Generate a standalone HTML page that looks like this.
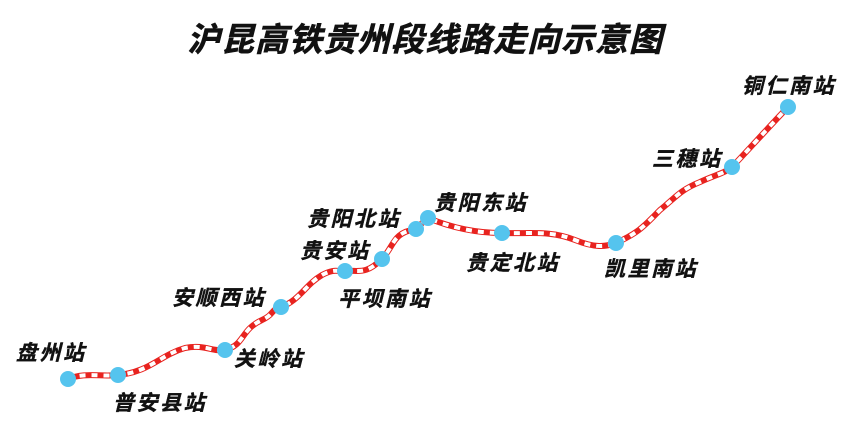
<!DOCTYPE html>
<html><head><meta charset="utf-8"><style>
html,body{margin:0;padding:0;background:#fff;}
svg{display:block}
text{font-family:"Liberation Sans","Noto Sans CJK SC",sans-serif;font-weight:bold;font-style:italic;fill:#111;}
</style></head><body>
<svg width="863" height="436" viewBox="0 0 863 436" xmlns="http://www.w3.org/2000/svg">
<text x="425" y="51" font-size="33" text-anchor="middle" letter-spacing="1" stroke="#111" stroke-width="0.6">沪昆高铁贵州段线路走向示意图</text>
<g fill="none" stroke-linecap="butt" stroke-linejoin="round">
<path d="M68,379 C85,372 100,377 118,375 C150,372 160,355 185,348 C205,344 212,352 225,350 C245,345 240,330 262,320 C275,314 270,310 281,307 C300,300 305,285 322,275 C335,268 338,272 345,271 C360,270 365,275 382,259 C395,245 392,233 416,229 C420,226 424,220 428,218 C445,225 470,233 502,233 C530,234 550,230 575,240 C595,248 605,247 616,243 C640,232 645,225 660,210 C675,198 680,190 700,182 C715,175 725,173 732,167 C750,148 768,128 788,107" stroke="#e8231f" stroke-width="6"/>
<path d="M68,379 C85,372 100,377 118,375 C150,372 160,355 185,348 C205,344 212,352 225,350 C245,345 240,330 262,320 C275,314 270,310 281,307 C300,300 305,285 322,275 C335,268 338,272 345,271 C360,270 365,275 382,259 C395,245 392,233 416,229 C420,226 424,220 428,218 C445,225 470,233 502,233 C530,234 550,230 575,240 C595,248 605,247 616,243 C640,232 645,225 660,210 C675,198 680,190 700,182 C715,175 725,173 732,167 C750,148 768,128 788,107" stroke="#fff" stroke-width="4" stroke-dasharray="6 6"/>
</g>
<g fill="#55c4ee">
<circle cx="68" cy="379" r="8"/><circle cx="118" cy="375" r="8"/><circle cx="225" cy="350" r="8"/>
<circle cx="281" cy="307" r="8"/><circle cx="345" cy="271" r="8"/><circle cx="382" cy="259" r="8"/>
<circle cx="416" cy="229" r="8"/><circle cx="428" cy="218" r="8"/><circle cx="502" cy="233" r="8"/>
<circle cx="616" cy="243" r="8"/><circle cx="732" cy="167" r="8"/><circle cx="788" cy="107" r="8"/>
</g>
<g font-size="21" letter-spacing="2.5" stroke="#111" stroke-width="0.4">
<text x="16" y="360">盘州站</text>
<text x="113" y="410">普安县站</text>
<text x="234" y="366">关岭站</text>
<text x="172" y="305">安顺西站</text>
<text x="300" y="258">贵安站</text>
<text x="338" y="306">平坝南站</text>
<text x="307" y="226">贵阳北站</text>
<text x="434" y="210">贵阳东站</text>
<text x="466" y="270">贵定北站</text>
<text x="604" y="276">凯里南站</text>
<text x="652" y="166">三穗站</text>
<text x="742" y="93">铜仁南站</text>
</g>
</svg>
</body></html>
